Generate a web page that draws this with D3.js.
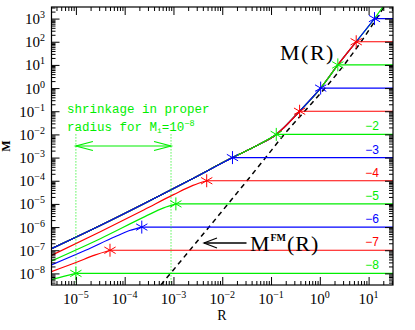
<!DOCTYPE html>
<html>
<head>
<meta charset="utf-8">
<script src="https://cdn.jsdelivr.net/npm/d3@7"></script>
<style>
  body { margin: 0; background: #fff; }
  svg { display: block; }
</style>
</head>
<body>
<div id="chart"></div>
<script>
// log10 of the initial masses Mi, one curve each
const massExp = [-8, -7, -6, -5, -4, -3, -2, -1, 0, 1, 2, 3];
// radius where each curve leaves its horizontal line (the stars)
const starR = [1.0e-5, 5.0e-5, 2.24e-4, 1.12e-3, 4.8e-3, 1.62e-2, 0.128, 0.385, 1.04, 2.34, 5.57, 13.2];

// the M(R) envelope
const envR = [3.16e-6, 3.16e-5, 2.59e-4, 2.51e-3, 1.62e-2, 2.88e-2, 5.4e-2, 0.128, 0.385, 1.04, 2.34, 5.57, 13.2, 19.5];
const envM = [1.17e-7, 1.17e-6, 1.07e-5, 1.26e-4, 1e-3, 1.8e-3, 3.5e-3, 1e-2, 0.1, 1, 10, 100, 1000, 3162];

// the low mass curves below their stars, [R, M]
const fallM8 = [[3.16e-6, 5.37e-9], [5.62e-6, 7.41e-9], [1e-5, 1e-8]];
const fallM7 = [[3.16e-6, 1.2e-8], [1e-5, 2.95e-8], [2.51e-5, 6.31e-8], [5.0e-5, 1e-7]];
const fallM6 = [[3.16e-6, 2.34e-8], [1.58e-5, 1e-7], [6.31e-5, 3.8e-7], [1.26e-4, 7.08e-7], [2.24e-4, 1e-6]];
const fallM5 = [[3.16e-6, 3.47e-8], [3.16e-5, 3.16e-7], [2.59e-4, 2.82e-6], [6.31e-4, 6.76e-6], [1.12e-3, 1e-5]];
const fallM4 = [[3.16e-6, 6.03e-8], [3.16e-5, 6.31e-7], [2.51e-4, 5.62e-6], [1e-3, 2.51e-5], [2.51e-3, 6.31e-5], [4.8e-3, 1e-4]];

// dashed M^FM(R)
const fmR = [5.51e-4, 7.76e-2, 0.186, 0.488, 1.28, 3.14, 7.0, 14.5, 20.7];
const fmM = [3.16e-9, 1e-3, 1e-2, 0.1, 1, 10, 100, 1000, 3162];

// tick labels (exponents of 10)
const xTickExp = [-5, -4, -3, -2, -1, 0, 1];
const yTickExp = [-8, -7, -6, -5, -4, -3, -2, -1, 0, 1, 2, 3];
const sideLabelExp = [-8, -7, -6, -5, -4, -3, -2];

const xDomain = [3.162e-6, 31.62];
const yDomain = [3.162e-9, 3162];

const palette = ['#00ee00', '#ff0000', '#0000ff'];
const green = palette[0];

const fallByExp = { '-8': fallM8, '-7': fallM7, '-6': fallM6, '-5': fallM5, '-4': fallM4 };

const pLeft = 51.5, pRight = 393, pTop = 7, pBottom = 285;

const x = d3.scaleLog().domain(xDomain).range([pLeft, pRight]);
const y = d3.scaleLog().domain(yDomain).range([pBottom, pTop]);

const svg = d3.select('#chart').append('svg')
    .attr('width', 415)
    .attr('height', 330)
    .style('font-family', '"Liberation Serif", serif');

svg.append('clipPath').attr('id', 'plotClip')
    .append('rect').attr('x', pLeft).attr('y', pTop).attr('width', pRight - pLeft).attr('height', pBottom - pTop);

const plot = svg.append('g').attr('clip-path', 'url(#plotClip)');

const line = d3.line().x(d => x(d[0])).y(d => y(d[1])).curve(d3.curveMonotoneX);
const envPts = envR.map((r, i) => [r, envM[i]]);

// dashed free model line
plot.append('path')
    .attr('d', line(fmR.map((r, i) => [r, fmM[i]])))
    .attr('fill', 'none')
    .attr('stroke', '#000')
    .attr('stroke-width', 1.5)
    .attr('stroke-dasharray', '5,4');

// envelope
plot.append('path')
    .attr('d', line(envPts))
    .attr('fill', 'none')
    .attr('stroke', green)
    .attr('stroke-width', 1.2);

function drawStar(g, cx, cy, r, color) {
    [90, 30, 150].forEach(a => {
        const t = a * Math.PI / 180;
        g.append('line')
            .attr('x1', cx - r * Math.cos(t)).attr('y1', cy + r * Math.sin(t))
            .attr('x2', cx + r * Math.cos(t)).attr('y2', cy - r * Math.sin(t))
            .attr('stroke', color).attr('stroke-width', 1);
    });
}

// heavy masses first, so lighter ones paint over the shared envelope
for (let i = massExp.length - 1; i >= 0; i--) {
    const e = massExp[i];
    const m = Math.pow(10, e);
    const color = palette[i % 3];
    const fall = fallByExp[e] || envPts.filter(p => p[0] <= starR[i] * 1.0001);

    plot.append('path')
        .attr('d', line(fall))
        .attr('fill', 'none')
        .attr('stroke', color)
        .attr('stroke-width', 1.2);

    plot.append('line')
        .attr('x1', x(starR[i])).attr('x2', pRight)
        .attr('y1', y(m)).attr('y2', y(m))
        .attr('stroke', color)
        .attr('stroke-width', 1.2);

    drawStar(plot, x(starR[i]), y(m), 6.5, color);
}

// labels on the right for the low masses
sideLabelExp.forEach(e => {
    const i = massExp.indexOf(e);
    svg.append('text')
        .attr('x', 379)
        .attr('y', y(Math.pow(10, e)) - 4)
        .attr('text-anchor', 'end')
        .style('font-family', '"Liberation Sans", sans-serif')
        .style('font-size', '12px')
        .attr('fill', palette[i % 3])
        .text('\u2212' + (-e));
});

// shrinkage annotation for Mi = 1e-8
const shrinkFrom = 1e-5, shrinkTo = Math.pow(10, -3.05);
[shrinkFrom, shrinkTo].forEach(r => {
    svg.append('line')
        .attr('x1', x(r)).attr('x2', x(r))
        .attr('y1', y(1e-2)).attr('y2', pBottom)
        .attr('stroke', green).attr('stroke-width', 1)
        .attr('stroke-dasharray', '1,2');
});

function arrowHead(g, tx, ty, dir, len, half, color) {
    g.append('path')
        .attr('d', `M${tx + dir * len},${ty - half}L${tx},${ty}L${tx + dir * len},${ty + half}`)
        .attr('fill', 'none').attr('stroke', color).attr('stroke-width', 1.2);
}

const ay = y(Math.pow(10, -2.5));
svg.append('line')
    .attr('x1', x(shrinkFrom)).attr('x2', x(shrinkTo))
    .attr('y1', ay).attr('y2', ay)
    .attr('stroke', green).attr('stroke-width', 1.2);
arrowHead(svg, x(shrinkFrom), ay, 1, 17, 4.5, green);
arrowHead(svg, x(shrinkTo), ay, -1, 17, 4.5, green);

const noteFont = '"Liberation Mono", monospace';
svg.append('text')
    .attr('x', 67).attr('y', 113)
    .style('font-family', noteFont).style('font-size', '12.5px')
    .attr('fill', green)
    .text('shrinkage in proper');

const note2 = svg.append('text')
    .attr('x', 67).attr('y', 131)
    .style('font-family', noteFont).style('font-size', '12.5px')
    .attr('fill', green);
note2.append('tspan').text('radius for M');
note2.append('tspan').attr('dy', 2).style('font-size', '8px').text('i');
note2.append('tspan').attr('dy', -2).text('=10');
note2.append('tspan').attr('dy', -5).style('font-size', '8.5px').text('\u22128');

// M(R) label
svg.append('text')
    .attr('x', 280).attr('y', 59.5)
    .style('font-size', '22px')
    .style('letter-spacing', '1.5px')
    .text('M(R)');

// M^FM(R) label with arrow
const fy = 243;
svg.append('line')
    .attr('x1', 204).attr('x2', 246.5)
    .attr('y1', fy).attr('y2', fy)
    .attr('stroke', '#000').attr('stroke-width', 1.3);
arrowHead(svg, 204, fy, 1, 13, 5, '#000');

const fm = svg.append('text').attr('y', 251).style('font-size', '22px');
fm.append('tspan').attr('x', 250).text('M');
fm.append('tspan').attr('x', 270.5).attr('dy', -10).style('font-size', '10px').style('font-weight', 'bold').text('FM');
fm.append('tspan').attr('x', 287).attr('dy', 10).style('letter-spacing', '1px').text('(R)');

// axes: ticks on all four sides, pointing inward
const isMajor = v => Math.abs(Math.log10(v) - Math.round(Math.log10(v))) < 1e-6;
const xTicks = x.ticks(20);
const yTicks = y.ticks(30);

const sides = [
    { gen: d3.axisBottom(x).tickValues(xTicks), at: `translate(0,${pBottom})`, attr: 'y2', dir: -1 },
    { gen: d3.axisTop(x).tickValues(xTicks), at: `translate(0,${pTop})`, attr: 'y2', dir: 1 },
    { gen: d3.axisLeft(y).tickValues(yTicks), at: `translate(${pLeft},0)`, attr: 'x2', dir: 1 },
    { gen: d3.axisRight(y).tickValues(yTicks), at: `translate(${pRight},0)`, attr: 'x2', dir: -1 }
];
sides.forEach(s => {
    const g = svg.append('g')
        .attr('transform', s.at)
        .call(s.gen.tickFormat('').tickSizeOuter(0));
    g.select('.domain').remove();
    g.selectAll('.tick text').remove();
    g.selectAll('.tick line')
        .attr(s.attr, d => s.dir * (isMajor(d) ? 8 : 4))
        .attr('stroke', '#000');
});

svg.append('rect')
    .attr('x', pLeft).attr('y', pTop)
    .attr('width', pRight - pLeft).attr('height', pBottom - pTop)
    .attr('fill', 'none').attr('stroke', '#000').attr('stroke-width', 1.2);

function powerLabel(g, e) {
    g.append('tspan').text('10');
    g.append('tspan').attr('dy', -6).style('font-size', '10px').text(e < 0 ? '\u2212' + (-e) : e);
}

xTickExp.forEach(e => {
    const t = svg.append('text')
        .attr('x', x(Math.pow(10, e))).attr('y', 304)
        .attr('text-anchor', 'middle')
        .style('font-size', '15px');
    powerLabel(t, e);
});

yTickExp.forEach(e => {
    const t = svg.append('text')
        .attr('x', 45).attr('y', y(Math.pow(10, e)) + 5.5)
        .attr('text-anchor', 'end')
        .style('font-size', '15px');
    powerLabel(t, e);
});

svg.append('text')
    .attr('x', 222).attr('y', 320)
    .attr('text-anchor', 'middle')
    .style('font-size', '14px')
    .text('R');

svg.append('text')
    .attr('transform', 'translate(10,146) rotate(-90)')
    .attr('text-anchor', 'middle')
    .style('font-size', '12px')
    .style('font-weight', 'bold')
    .text('M');
</script>
</body>
</html>
